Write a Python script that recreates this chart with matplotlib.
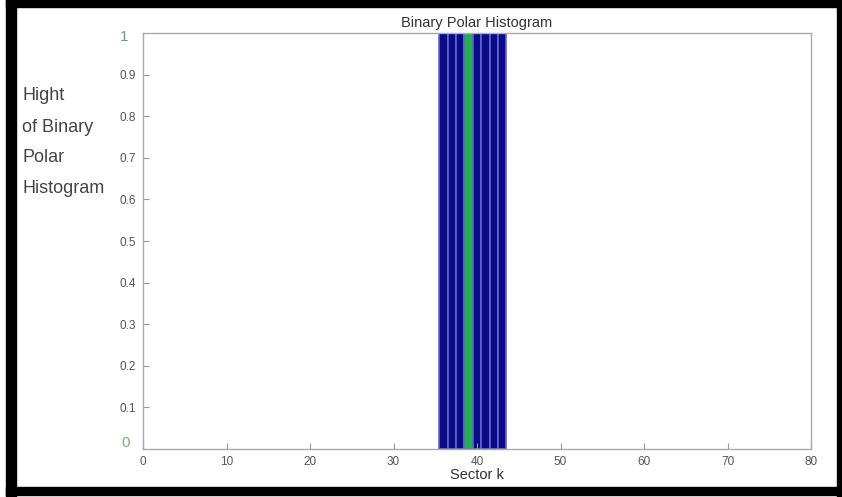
import matplotlib
matplotlib.use("Agg")
from matplotlib import pyplot as plt
from matplotlib.patches import Rectangle

plt.rcParams['font.family'] = ['Liberation Sans', 'DejaVu Sans']

# sectors that are blocked in the binary histogram, plus the chosen one
sectors = [36, 37, 38, 39, 40, 41, 42, 43]
heights = [1, 1, 1, 1, 1, 1, 1, 1]
chosen_sector = 39

x_ticks = [0, 10, 20, 30, 40, 50, 60, 70, 80]
y_ticks = [0.1, 0.2, 0.3, 0.4, 0.5, 0.6, 0.7, 0.8, 0.9]
y_label_lines = ['Hight', 'of Binary', 'Polar', 'Histogram']

fig = plt.figure(figsize=(8.42, 4.97), dpi=100)
W, H = 842, 497

ax = fig.add_axes([143 / W, 48 / H, 668 / W, 416 / H])

colors = ['#22b04a' if s == chosen_sector else '#0b0b86' for s in sectors]
ax.bar(sectors, heights, width=1.0, color=colors,
       edgecolor='#6262d8', linewidth=1.2)

ax.set_xlim(0, 80)
ax.set_ylim(0, 1)
ax.set_xticks(x_ticks)
ax.set_yticks(y_ticks)
ax.set_yticklabels([f'{v:g}' for v in y_ticks])
ax.tick_params(direction='in', length=4, color='#999999',
               labelsize=8.5, labelcolor='#555555')
ax.tick_params(axis='y', pad=5)
ax.tick_params(axis='x', pad=5)
for s in ax.spines.values():
    s.set_color('#aaaaaa')
    s.set_linewidth(1.0)

# end labels of the y axis drawn in green
ax.text(-0.022, 0.99, '1', transform=ax.transAxes, ha='right', va='center',
        color='#55aa77', fontsize=11)
ax.text(-0.020, 0.014, '0', transform=ax.transAxes, ha='right', va='center',
        color='#77aa88', fontsize=11)

ax.set_title('Binary Polar Histogram', fontsize=10.5, color='#333333', pad=4)
ax.set_xlabel('Sector k', fontsize=10.5, color='#333333', labelpad=0)

# y label written as separate horizontal lines
for i, line in enumerate(y_label_lines):
    fig.text(22 / W, 1 - (96 + 31 * i) / H, line, ha='left', va='center',
             fontsize=13, color='#444444')

# black frame round the whole figure (left, top, bottom, right)
for x0, y0, w, h in [(6, 0, 10, 497), (6, 490, 836, 7), (6, 2, 836, 8),
                     (837, 0, 5, 497)]:
    fig.patches.append(Rectangle((x0 / W, y0 / H), w / W, h / H,
                                 transform=fig.transFigure, color='black'))

fig.savefig('out.png', dpi=100)
